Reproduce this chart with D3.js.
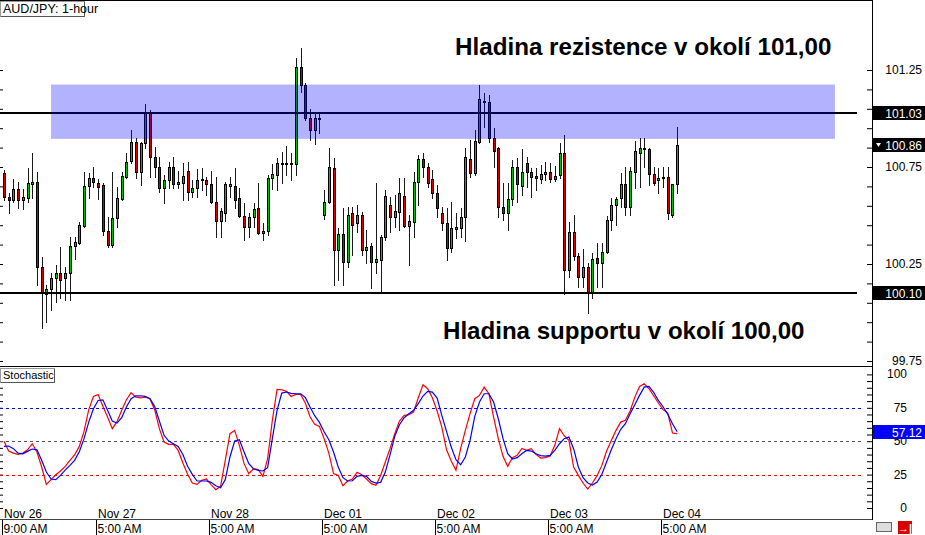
<!DOCTYPE html>
<html><head><meta charset="utf-8">
<script src="https://cdn.jsdelivr.net/npm/d3@7"></script>
<style>body{margin:0;background:#fff;} svg{display:block;font-family:"Liberation Sans",Arial,sans-serif;}</style>
</head><body><svg id="c" width="925" height="535"></svg>
<script>
const openP=[100.719,100.596,100.580,100.637,100.580,100.591,100.663,100.673,100.234,100.095,
100.121,100.178,100.203,100.178,100.203,100.343,100.358,100.446,100.652,100.694,
100.668,100.658,100.420,100.348,100.487,100.585,100.699,100.781,100.879,100.725,
100.874,101.034,100.802,100.750,100.642,100.683,100.750,100.663,100.668,100.730,
100.621,100.642,100.683,100.683,100.663,100.570,100.472,100.513,100.652,100.652,
100.591,100.498,100.441,100.492,100.539,100.410,100.420,100.694,100.709,100.766,
100.766,100.771,100.766,101.265,101.173,101.003,100.941,101.003,100.503,100.570,
100.745,100.322,100.405,100.260,100.513,100.461,100.503,100.322,100.343,100.260,
100.270,100.389,100.554,100.492,100.518,100.601,100.446,100.467,100.673,100.792,
100.750,100.689,100.616,100.513,100.461,100.333,100.431,100.436,100.492,100.792,
100.719,100.879,101.086,101.086,100.900,100.849,100.544,100.513,100.585,100.750,
100.652,100.771,100.725,100.704,100.689,100.714,100.725,100.689,100.709,100.823,
100.219,100.415,100.291,100.183,100.234,100.100,100.281,100.255,100.312,100.477,
100.554,100.591,100.663,100.544,100.725,100.823,100.843,100.843,100.714,100.683,
100.694,100.699,100.503,100.663];
const highP=[100.735,100.617,100.689,100.673,100.637,100.745,100.823,100.725,100.286,100.142,
100.203,100.245,100.338,100.234,100.389,100.389,100.467,100.725,100.719,100.750,
100.689,100.668,100.492,100.725,100.647,100.725,100.823,100.941,100.900,100.879,
101.075,101.044,100.854,100.802,100.709,100.776,100.802,100.730,100.771,100.776,
100.683,100.740,100.745,100.699,100.730,100.699,100.539,100.673,100.699,100.745,
100.642,100.565,100.513,100.565,100.668,100.461,100.709,100.766,100.797,100.828,
100.859,100.823,101.312,101.363,101.183,101.050,101.029,101.029,100.632,100.849,
100.797,100.436,100.539,100.544,100.544,100.554,100.518,100.425,100.358,100.668,
100.400,100.632,100.596,100.606,100.694,100.694,100.503,100.725,100.812,100.823,
100.771,100.735,100.658,100.544,100.539,100.570,100.513,100.539,100.849,100.890,
100.941,101.173,101.131,101.121,100.952,100.854,100.668,100.668,100.786,100.797,
100.843,100.802,100.745,100.745,100.761,100.776,100.771,100.756,100.874,100.916,
100.467,100.503,100.307,100.327,100.255,100.307,100.358,100.358,100.498,100.591,
100.596,100.719,100.750,100.750,100.884,100.900,100.900,100.850,100.750,100.745,
100.750,100.750,100.663,100.957];
const lowP=[100.580,100.513,100.570,100.539,100.534,100.570,100.591,100.142,99.921,99.952,
100.013,100.055,100.075,100.065,100.065,100.276,100.353,100.441,100.591,100.647,
100.585,100.400,100.338,100.338,100.441,100.580,100.694,100.771,100.694,100.658,
100.849,100.699,100.699,100.621,100.565,100.642,100.642,100.642,100.580,100.580,
100.596,100.596,100.632,100.606,100.565,100.389,100.389,100.472,100.596,100.539,
100.492,100.374,100.389,100.441,100.405,100.374,100.400,100.637,100.632,100.668,
100.709,100.683,100.709,101.136,100.993,100.890,100.869,100.926,100.482,100.565,
100.142,100.167,100.142,100.234,100.296,100.415,100.296,100.255,100.126,100.203,
100.100,100.374,100.415,100.441,100.425,100.441,100.245,100.389,100.554,100.699,
100.647,100.591,100.492,100.425,100.270,100.312,100.384,100.389,100.369,100.699,
100.709,100.874,100.957,100.879,100.750,100.492,100.477,100.425,100.554,100.570,
100.606,100.647,100.596,100.632,100.668,100.683,100.673,100.678,100.694,100.095,
100.183,100.270,100.131,100.131,99.998,100.075,100.131,100.131,100.307,100.425,
100.451,100.544,100.503,100.503,100.642,100.647,100.750,100.658,100.658,100.616,
100.647,100.482,100.492,100.616];
const closeP=[100.596,100.580,100.637,100.580,100.596,100.668,100.673,100.234,100.100,100.121,
100.178,100.203,100.167,100.203,100.343,100.363,100.451,100.652,100.694,100.673,
100.647,100.420,100.348,100.487,100.591,100.704,100.776,100.879,100.725,100.874,
101.029,100.802,100.750,100.642,100.683,100.750,100.663,100.673,100.704,100.621,
100.642,100.683,100.689,100.663,100.570,100.472,100.523,100.663,100.663,100.580,
100.498,100.441,100.492,100.534,100.410,100.420,100.694,100.714,100.771,100.771,
100.771,100.768,101.265,101.173,101.003,100.941,101.003,100.998,100.570,100.750,
100.322,100.405,100.260,100.503,100.451,100.503,100.322,100.338,100.260,100.276,
100.389,100.601,100.492,100.523,100.616,100.446,100.472,100.673,100.792,100.750,
100.668,100.616,100.539,100.461,100.333,100.436,100.441,100.492,100.802,100.719,
100.884,101.100,101.091,100.900,100.833,100.544,100.513,100.585,100.750,100.663,
100.725,100.725,100.699,100.694,100.714,100.725,100.689,100.704,100.823,100.219,
100.415,100.291,100.183,100.234,100.100,100.276,100.255,100.312,100.477,100.554,
100.585,100.663,100.544,100.730,100.833,100.849,100.849,100.714,100.668,100.694,
100.699,100.513,100.663,100.864];
const stochK=[49.9,42.6,41.1,40.1,41.1,43.6,48.1,41.9,30.7,17.7,
21.2,24.9,27.7,31.2,35.7,39.7,46.1,57.4,73.6,83.5,
85.0,76.1,68.1,59.4,64.6,73.1,81.0,86.3,83.0,82.5,
83.0,81.8,73.6,59.4,49.4,47.6,47.6,43.1,33.7,25.2,
18.7,17.7,20.7,21.7,17.5,13.7,16.2,35.7,55.6,58.1,
46.9,33.2,25.7,29.4,28.7,23.7,36.9,65.6,88.8,88.5,
87.3,83.5,85.0,85.0,78.6,68.3,62.6,61.1,51.9,41.1,
25.7,24.4,16.7,20.2,21.7,26.7,24.9,21.7,18.2,17.0,
24.4,34.4,44.4,55.6,65.1,69.3,69.8,71.8,82.5,92.3,
89.3,82.5,72.6,60.6,43.6,35.2,28.2,44.4,58.1,70.6,
81.8,84.3,90.5,85.5,68.1,51.9,38.7,31.2,37.7,39.4,
44.6,43.1,44.4,40.1,37.4,37.7,38.9,46.9,59.4,54.1,
50.6,30.7,24.4,18.7,14.2,18.7,24.4,31.9,42.6,50.6,
58.1,64.3,65.6,72.6,83.0,91.0,93.0,89.3,84.0,78.6,
73.6,71.1,56.1,55.6];
const stochD=[46.1,46.4,44.4,41.1,40.6,42.4,44.1,43.6,35.7,26.9,
21.7,21.2,24.4,28.4,31.9,35.7,42.1,51.9,64.3,74.3,
80.5,81.0,73.1,65.1,63.6,67.6,75.6,81.8,84.0,84.0,
83.5,81.8,76.1,65.1,54.4,50.1,48.1,46.1,40.1,31.2,
25.2,20.2,20.2,20.2,19.2,16.7,15.2,21.2,38.2,50.1,
51.1,41.9,33.2,29.4,28.2,27.7,30.2,51.9,73.1,86.0,
86.8,85.8,85.5,85.5,82.8,75.6,69.1,64.1,57.1,51.1,
41.9,30.7,22.7,20.2,20.4,23.7,24.4,23.7,20.0,18.7,
19.2,26.9,39.7,53.6,62.3,67.6,70.6,73.1,78.1,83.8,
87.3,86.8,82.3,69.3,57.4,45.6,36.2,32.4,38.2,50.6,
68.6,79.3,85.5,85.5,79.3,66.8,51.9,40.6,36.7,37.7,
40.6,43.1,42.6,40.6,39.2,38.9,39.4,43.1,48.1,51.9,
53.1,44.4,30.7,22.7,18.7,17.2,19.5,25.2,34.4,43.6,
51.9,58.9,63.1,70.6,77.3,84.3,90.5,91.0,86.5,80.5,
75.8,70.1,63.1,57.12];
const priceLabels=[99.75,100.25,100.75,101.25];
const stochLabels=[0,25,50,75,100];
const dateLabels=["Nov 26","Nov 27","Nov 28","Dec 01","Dec 02","Dec 03","Dec 04"];
const timeLabels=["9:00 AM","5:00 AM","5:00 AM","5:00 AM","5:00 AM","5:00 AM","5:00 AM"];
const tickIndex=[0,20,44,68,92,116,140];
const levelLines=[101.03,100.10];
const zoneLow=100.895, zoneHigh=101.175, zoneFrom=10, zoneTo=176.5;
const stochLevels=[75,50,25];
const stochLevelColors=["#0000ff","#555555","#ff0000"];
const titleText="AUD/JPY: 1-hour";
const resText="Hladina rezistence v okolí 101,00";
const supText="Hladina supportu v okolí 100,00";

const svg=d3.select('#c');
const AX=872;
const x=d3.scaleLinear().domain([0,143]).range([4,677.2]);
const y=d3.scaleLinear().domain([99.75,101.25]).range([361,70]);
const ys=d3.scaleLinear().domain([0,100]).range([508,374.4]);

svg.append('rect').attr('width',925).attr('height',535).attr('fill','#fff');

// candles
const candles=d3.range(openP.length).map(i=>({i,o:openP[i],h:highP[i],l:lowP[i],c:closeP[i]}));
const cg=svg.append('g');
candles.forEach(d=>{
  const cx=Math.round(x(d.i));
  cg.append('line').attr('x1',cx+0.5).attr('x2',cx+0.5)
    .attr('y1',Math.round(y(d.h))).attr('y2',Math.round(y(d.l))+1)
    .attr('stroke','#1a1a1a').attr('stroke-width',1);
  const top=Math.round(y(Math.max(d.o,d.c))), bot=Math.round(y(Math.min(d.o,d.c)));
  cg.append('rect').attr('x',cx-0.5).attr('y',top+0.5).attr('width',2).attr('height',Math.max(bot-top,1))
    .attr('fill',d.c>=d.o?'#00c000':'#d40000').attr('stroke','#000').attr('stroke-width',1);
});

// level lines
levelLines.forEach(v=>{
  svg.append('line').attr('x1',0).attr('x2',857).attr('y1',Math.round(y(v))).attr('y2',Math.round(y(v)))
    .attr('stroke','#000').attr('stroke-width',2);
});
// zone
svg.append('rect').attr('x',x(zoneFrom)).attr('width',x(zoneTo)-x(zoneFrom))
  .attr('y',y(zoneHigh)).attr('height',y(zoneLow)-y(zoneHigh))
  .attr('fill','rgba(0,0,255,0.3)');

// annotations
svg.append('text').attr('x',455).attr('y',55).attr('font-size',24.2).attr('font-weight','bold').attr('fill','#000').text(resText);
svg.append('text').attr('x',443).attr('y',339).attr('font-size',24.1).attr('font-weight','bold').attr('fill','#000').text(supText);

// frame
const frame=svg.append('g').attr('stroke','#000').attr('shape-rendering','crispEdges');
frame.append('line').attr('x1',0).attr('x2',AX).attr('y1',0.5).attr('y2',0.5);
frame.append('line').attr('x1',0).attr('x2',AX).attr('y1',366.5).attr('y2',366.5);
frame.append('line').attr('x1',0).attr('x2',AX).attr('y1',519.5).attr('y2',519.5).attr('stroke','#444');
frame.append('line').attr('x1',AX+0.5).attr('x2',AX+0.5).attr('y1',0).attr('y2',520);

// price axis ticks
const minorPrice=d3.range(0,16).map(k=>99.75+k*0.1);
svg.append('g').attr('transform',`translate(${AX},0)`).call(d3.axisLeft(y).tickValues(minorPrice).tickSize(5).tickFormat(''))
  .call(g=>g.select('.domain').remove()).selectAll('line').attr('stroke','#000');
svg.append('g').call(d3.axisLeft(y).tickValues(minorPrice).tickSize(-3).tickFormat(''))
  .call(g=>g.select('.domain').remove()).selectAll('line').attr('stroke','#000');
svg.append('g').selectAll('text').data(priceLabels).join('text')
  .attr('x',922).attr('y',d=>y(d)+4).attr('text-anchor','end').attr('font-size',12).text(d=>d.toFixed(2));

// stochastic ticks
const minorStoch=d3.range(0,21).map(k=>k*5);
svg.append('g').attr('transform',`translate(${AX},0)`).call(d3.axisLeft(ys).tickValues(minorStoch).tickSize(5).tickFormat(''))
  .call(g=>g.select('.domain').remove()).selectAll('line').attr('stroke','#000');
svg.append('g').call(d3.axisLeft(ys).tickValues(minorStoch).tickSize(-3).tickFormat(''))
  .call(g=>g.select('.domain').remove()).selectAll('line').attr('stroke','#000');
svg.append('g').selectAll('text').data(stochLabels).join('text')
  .attr('x',907).attr('y',d=>ys(d)+4).attr('text-anchor','end').attr('font-size',12).text(d=>d);

// stoch levels
stochLevels.forEach((v,k)=>{
  svg.append('line').attr('x1',0).attr('x2',862).attr('y1',Math.round(ys(v))+0.5).attr('y2',Math.round(ys(v))+0.5)
    .attr('stroke',stochLevelColors[k]).attr('stroke-dasharray','3,3');
});
// stoch lines
const ln=arr=>d3.line().x((d,i)=>x(i)).y(d=>ys(d))(arr);
svg.append('path').attr('d',ln(stochK)).attr('fill','none').attr('stroke','#ff0000').attr('stroke-width',1.2);
svg.append('path').attr('d',ln(stochD)).attr('fill','none').attr('stroke','#0000ff').attr('stroke-width',1.2);

// value boxes
function box(yy,bg,label,tri){
  const g=svg.append('g');
  g.append('rect').attr('x',AX+1).attr('y',Math.round(yy)-7).attr('width',53).attr('height',14).attr('fill',bg);
  g.append('text').attr('x',922).attr('y',Math.round(yy)+4.5).attr('text-anchor','end').attr('font-size',12).attr('fill','#fff').text(label);
  if(tri){g.append('path').attr('d',`M${AX+4},${Math.round(yy)-2} l5,0 l-2.5,4 z`).attr('fill','#fff');}
}
box(y(levelLines[0]),'#000',levelLines[0].toFixed(2),false);
box(y(closeP[closeP.length-1]),'#000',closeP[closeP.length-1].toFixed(2),true);
box(y(levelLines[1]),'#000',levelLines[1].toFixed(2),false);
box(ys(stochD[stochD.length-1]),'#0000ff',stochD[stochD.length-1].toFixed(2),false);

// time axis
tickIndex.forEach((ti,k)=>{
  const tx=Math.round(x(ti))-1.5;
  svg.append('line').attr('x1',tx).attr('x2',tx).attr('y1',520).attr('y2',535).attr('stroke','#000');
  svg.append('text').attr('x',tx+1.5).attr('y',518).attr('font-size',12).text(dateLabels[k]);
  svg.append('text').attr('x',tx+1).attr('y',533).attr('font-size',12).text(timeLabels[k]);
});

// title boxes
function tbox(xx,yy,w,h,t,fs){
  svg.append('rect').attr('x',xx+0.5).attr('y',yy+0.5).attr('width',w).attr('height',h).attr('fill','#fff').attr('stroke','#999');
  svg.append('path').attr('d',`M${xx+w+0.5},${yy+1} V${yy+h+0.5} H${xx+1}`).attr('fill','none').attr('stroke','#555');
  svg.append('text').attr('x',xx+3).attr('y',yy+h-3).attr('font-size',fs).text(t);
}
tbox(0,1,84,15,titleText,12.5);
tbox(0,368,54,14,"Stochastic",11);

// bottom icons
svg.append('rect').attr('x',876.5).attr('y',522.5).attr('width',15).attr('height',9).attr('fill','#ddd').attr('stroke','#666');
svg.append('rect').attr('x',898).attr('y',521).attr('width',14).attr('height',13).attr('fill','#d80000');
svg.append('text').attr('x',905).attr('y',532).attr('text-anchor','middle').attr('font-size',11).attr('font-weight','bold').attr('fill','#fff').text('→|');
</script></body></html>
